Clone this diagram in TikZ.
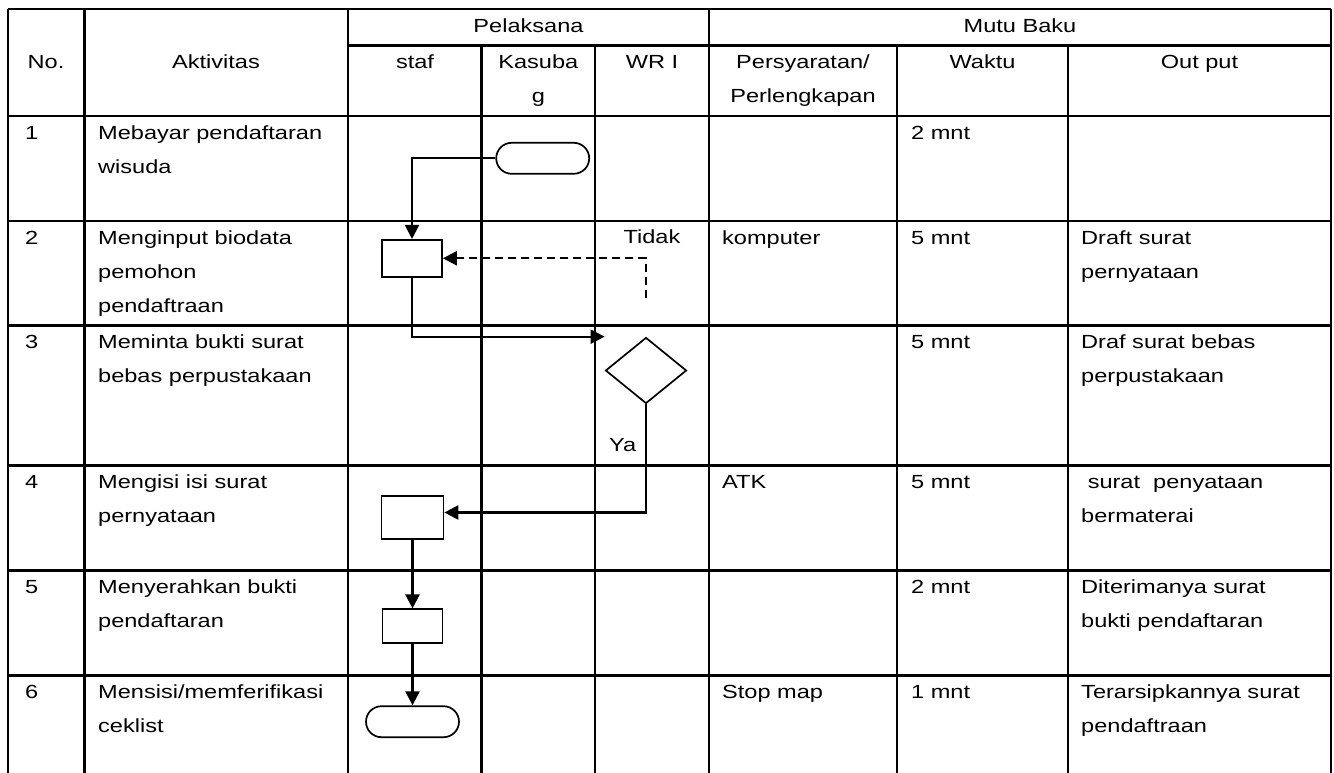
\documentclass[tikz,border=0pt]{standalone}
\usepackage{fontspec}
\setmainfont{Liberation Sans}[FakeStretch=1.24]
\usetikzlibrary{arrows.meta,shapes.geometric}
\newcommand\cellfont{\fontsize{19}{34}\selectfont}
\begin{document}
\begin{tikzpicture}[x=1pt,y=-1pt,
  grid/.style={line width=2.1pt},
  txt/.style={font=\cellfont, inner sep=0pt, anchor=north west, align=left},
  ctxt/.style={font=\cellfont, inner sep=0pt, anchor=north, align=center},
  lbl/.style={font=\cellfont, inner sep=0pt},
  shp/.style={draw, line width=1.7pt, fill=white, inner sep=0pt},
  proc/.style={shp, rectangle},
  term/.style={shp, rectangle, rounded corners=15.5pt, minimum width=93pt, minimum height=31pt},
  dec/.style={shp, diamond, minimum width=81pt, minimum height=66pt},
  flow/.style={line width=2.2pt, -{Triangle[length=14pt,width=14pt]}},
  back/.style={flow, dash pattern=on 8pt off 5pt}]
\useasboundingbox (0,0) rectangle (1334,773);
\fill[white] (0,0) rectangle (1334,773);

% ---- table grid ----
\draw[grid] (8,9) -- (1331,9);
\draw[grid] (348,45.5) -- (1331,45.5);
\foreach \yy in {116,221,325.5,465.5,570.5,675.5}
  \draw[grid] (8,\yy) -- (1331,\yy);
\foreach \xx in {8,84.5,348,709,1331}
  \draw[grid] (\xx,9) -- (\xx,773);
\foreach \xx in {481.5,595,897,1068}
  \draw[grid] (\xx,45.5) -- (\xx,773);

% ---- header ----
\node[ctxt] (hno) at (46,44.7) {\strut No.};
\node[ctxt] (hakt) at (216,44.7) {\strut Aktivitas};
\node[ctxt] (hpel) at (528.5,8.2) {\strut Pelaksana};
\node[ctxt] (hmutu) at (1020,8.2) {\strut Mutu Baku};
\node[ctxt] (hstaf) at (415,44.7) {\strut staf};
\node[ctxt] (hkas) at (538.3,44.7) {\strut Kasuba\\g};
\node[ctxt] (hwr) at (652,44.7) {\strut WR I};
\node[ctxt] (hpers) at (803,44.7) {\strut Persyaratan/\\Perlengkapan};
\node[ctxt] (hwak) at (982.5,44.7) {\strut Waktu};
\node[ctxt] (hout) at (1199.5,44.7) {\strut Out put};

% ---- row 1 ----
\node[txt] (n1) at (25,115.2) {\strut 1};
\node[txt] (a1) at (98,115.2) {\strut Mebayar pendaftaran\\wisuda};
\node[txt] (w1) at (911,115.2) {\strut 2 mnt};
% ---- row 2 ----
\node[txt] (n2) at (25,220.2) {\strut 2};
\node[txt] (a2) at (98,220.2) {\strut Menginput biodata\\pemohon\\pendaftraan};
\node[txt] (p2) at (722,220.2) {\strut komputer};
\node[txt] (w2) at (911,220.2) {\strut 5 mnt};
\node[txt] (o2) at (1081,220.2) {\strut Draft surat\\pernyataan};
% ---- row 3 ----
\node[txt] (n3) at (25,324.7) {\strut 3};
\node[txt] (a3) at (98,324.7) {\strut Meminta bukti surat\\bebas perpustakaan};
\node[txt] (w3) at (911,324.7) {\strut 5 mnt};
\node[txt] (o3) at (1081,324.7) {\strut Draf surat bebas\\perpustakaan};
% ---- row 4 ----
\node[txt] (n4) at (25,464.7) {\strut 4};
\node[txt] (a4) at (98,464.7) {\strut Mengisi isi surat\\pernyataan};
\node[txt] (p4) at (722,464.7) {\strut ATK};
\node[txt] (w4) at (911,464.7) {\strut 5 mnt};
\node[txt] (o4) at (1081,464.7) {\strut\ surat\ \ penyataan\\bermaterai};
% ---- row 5 ----
\node[txt] (n5) at (25,569.7) {\strut 5};
\node[txt] (a5) at (98,569.7) {\strut Menyerahkan bukti\\pendaftaran};
\node[txt] (w5) at (911,569.7) {\strut 2 mnt};
\node[txt] (o5) at (1081,569.7) {\strut Diterimanya surat\\bukti pendaftaran};
% ---- row 6 ----
\node[txt] (n6) at (25,674.7) {\strut 6};
\node[txt] (a6) at (98,674.7) {\strut Mensisi/memferifikasi\\ceklist};
\node[txt] (p6) at (722,674.7) {\strut Stop map};
\node[txt] (w6) at (911,674.7) {\strut 1 mnt};
\node[txt] (o6) at (1081,674.7) {\strut Terarsipkannya surat\\pendaftraan};

% ---- flow shapes ----
\node[term] (t1) at (542.7,158.3) {};
\node[proc, minimum width=60pt, minimum height=37pt] (r2) at (412,258.3) {};
\node[dec] (dia) at (646,370.5) {};
\node[proc, minimum width=62pt, minimum height=43pt] (r4) at (412.5,517.5) {};
\node[proc, minimum width=60pt, minimum height=34pt] (r5) at (412.5,626.3) {};
\node[term] (t6) at (412.5,721.7) {};

% ---- labels ----
\node[lbl, anchor=base] (tidak) at (652,243.5) {Tidak};
\node[lbl, anchor=base west] (ya) at (609,451.7) {Ya};

% ---- connectors ----
\coordinate (dstart) at (645.7,298);
\draw[flow] (t1.west) -| (r2.north);
\draw[back] (dstart) |- (r2.east);
\draw[flow] (r2.south) |- (dia.north -| dia.west);
\draw[flow] (dia.south) |- ([yshift=5pt]r4.east);
\draw[flow] (r4.south) -- (r5.north);
\draw[flow] (r5.south) -- (t6.north);
\end{tikzpicture}
\end{document}
